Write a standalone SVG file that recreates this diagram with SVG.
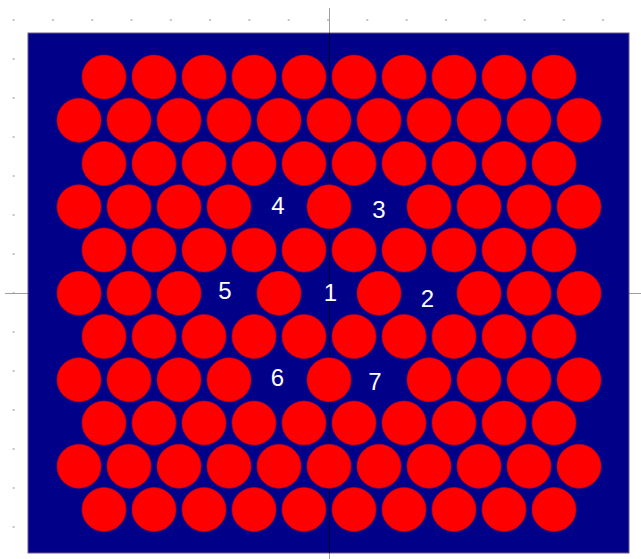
<svg xmlns="http://www.w3.org/2000/svg" xmlns:xlink="http://www.w3.org/1999/xlink" width="641" height="559" viewBox="0 0 641 559">
<style>
.c{fill:#ff0000;stroke:#d00010;stroke-width:0.6}
.lbl{font-family:"Liberation Sans",Arial,sans-serif;font-size:24px;fill:#ffffff;text-anchor:middle}
.grid{stroke:#a0a0a0;stroke-width:1;fill:none}
</style>
<defs>
<pattern id="dots" patternUnits="userSpaceOnUse" x="12.6" y="19" width="39.3" height="39">
<rect x="0" y="0" width="2" height="2" fill="#c4c4c4"/>
</pattern>
<circle id="p" r="22" class="c"/>
</defs>
<rect width="641" height="559" fill="#ffffff"/>
<rect width="641" height="559" fill="url(#dots)"/>
<line class="grid" x1="329.5" y1="8" x2="329.5" y2="559"/>
<line class="grid" x1="5" y1="293.5" x2="641" y2="293.5"/>
<rect x="28" y="33" width="601" height="520" fill="#000088" stroke="#6a5a8a" stroke-width="1"/>
<line x1="329.5" y1="33" x2="329.5" y2="553" stroke="#000030" stroke-width="1"/>
<g id="lattice">
<!-- row 0 y=77 -->
<g id="row0">
<use xlink:href="#p" x="104" y="77"/><use xlink:href="#p" x="154" y="77"/><use xlink:href="#p" x="204" y="77"/><use xlink:href="#p" x="254" y="77"/><use xlink:href="#p" x="304" y="77"/><use xlink:href="#p" x="354" y="77"/><use xlink:href="#p" x="404" y="77"/><use xlink:href="#p" x="454" y="77"/><use xlink:href="#p" x="504" y="77"/><use xlink:href="#p" x="554" y="77"/>
</g>
<g id="row1">
<use xlink:href="#p" x="79" y="120.25"/><use xlink:href="#p" x="129" y="120.25"/><use xlink:href="#p" x="179" y="120.25"/><use xlink:href="#p" x="229" y="120.25"/><use xlink:href="#p" x="279" y="120.25"/><use xlink:href="#p" x="329" y="120.25"/><use xlink:href="#p" x="379" y="120.25"/><use xlink:href="#p" x="429" y="120.25"/><use xlink:href="#p" x="479" y="120.25"/><use xlink:href="#p" x="529" y="120.25"/><use xlink:href="#p" x="579" y="120.25"/>
</g>
<g id="row2">
<use xlink:href="#p" x="104" y="163.5"/><use xlink:href="#p" x="154" y="163.5"/><use xlink:href="#p" x="204" y="163.5"/><use xlink:href="#p" x="254" y="163.5"/><use xlink:href="#p" x="304" y="163.5"/><use xlink:href="#p" x="354" y="163.5"/><use xlink:href="#p" x="404" y="163.5"/><use xlink:href="#p" x="454" y="163.5"/><use xlink:href="#p" x="504" y="163.5"/><use xlink:href="#p" x="554" y="163.5"/>
</g>
<g id="row3">
<use xlink:href="#p" x="79" y="206.75"/><use xlink:href="#p" x="129" y="206.75"/><use xlink:href="#p" x="179" y="206.75"/><use xlink:href="#p" x="229" y="206.75"/><use xlink:href="#p" x="329" y="206.75"/><use xlink:href="#p" x="429" y="206.75"/><use xlink:href="#p" x="479" y="206.75"/><use xlink:href="#p" x="529" y="206.75"/><use xlink:href="#p" x="579" y="206.75"/>
</g>
<g id="row4">
<use xlink:href="#p" x="104" y="250"/><use xlink:href="#p" x="154" y="250"/><use xlink:href="#p" x="204" y="250"/><use xlink:href="#p" x="254" y="250"/><use xlink:href="#p" x="304" y="250"/><use xlink:href="#p" x="354" y="250"/><use xlink:href="#p" x="404" y="250"/><use xlink:href="#p" x="454" y="250"/><use xlink:href="#p" x="504" y="250"/><use xlink:href="#p" x="554" y="250"/>
</g>
<g id="row5">
<use xlink:href="#p" x="79" y="293.25"/><use xlink:href="#p" x="129" y="293.25"/><use xlink:href="#p" x="179" y="293.25"/><use xlink:href="#p" x="279" y="293.25"/><use xlink:href="#p" x="379" y="293.25"/><use xlink:href="#p" x="479" y="293.25"/><use xlink:href="#p" x="529" y="293.25"/><use xlink:href="#p" x="579" y="293.25"/>
</g>
<g id="row6">
<use xlink:href="#p" x="104" y="336.5"/><use xlink:href="#p" x="154" y="336.5"/><use xlink:href="#p" x="204" y="336.5"/><use xlink:href="#p" x="254" y="336.5"/><use xlink:href="#p" x="304" y="336.5"/><use xlink:href="#p" x="354" y="336.5"/><use xlink:href="#p" x="404" y="336.5"/><use xlink:href="#p" x="454" y="336.5"/><use xlink:href="#p" x="504" y="336.5"/><use xlink:href="#p" x="554" y="336.5"/>
</g>
<g id="row7">
<use xlink:href="#p" x="79" y="379.75"/><use xlink:href="#p" x="129" y="379.75"/><use xlink:href="#p" x="179" y="379.75"/><use xlink:href="#p" x="229" y="379.75"/><use xlink:href="#p" x="329" y="379.75"/><use xlink:href="#p" x="429" y="379.75"/><use xlink:href="#p" x="479" y="379.75"/><use xlink:href="#p" x="529" y="379.75"/><use xlink:href="#p" x="579" y="379.75"/>
</g>
<g id="row8">
<use xlink:href="#p" x="104" y="423"/><use xlink:href="#p" x="154" y="423"/><use xlink:href="#p" x="204" y="423"/><use xlink:href="#p" x="254" y="423"/><use xlink:href="#p" x="304" y="423"/><use xlink:href="#p" x="354" y="423"/><use xlink:href="#p" x="404" y="423"/><use xlink:href="#p" x="454" y="423"/><use xlink:href="#p" x="504" y="423"/><use xlink:href="#p" x="554" y="423"/>
</g>
<g id="row9">
<use xlink:href="#p" x="79" y="466.25"/><use xlink:href="#p" x="129" y="466.25"/><use xlink:href="#p" x="179" y="466.25"/><use xlink:href="#p" x="229" y="466.25"/><use xlink:href="#p" x="279" y="466.25"/><use xlink:href="#p" x="329" y="466.25"/><use xlink:href="#p" x="379" y="466.25"/><use xlink:href="#p" x="429" y="466.25"/><use xlink:href="#p" x="479" y="466.25"/><use xlink:href="#p" x="529" y="466.25"/><use xlink:href="#p" x="579" y="466.25"/>
</g>
<g id="row10">
<use xlink:href="#p" x="104" y="509.5"/><use xlink:href="#p" x="154" y="509.5"/><use xlink:href="#p" x="204" y="509.5"/><use xlink:href="#p" x="254" y="509.5"/><use xlink:href="#p" x="304" y="509.5"/><use xlink:href="#p" x="354" y="509.5"/><use xlink:href="#p" x="404" y="509.5"/><use xlink:href="#p" x="454" y="509.5"/><use xlink:href="#p" x="504" y="509.5"/><use xlink:href="#p" x="554" y="509.5"/>
</g>
</g>
<g id="labels">
<text class="lbl" x="278" y="214">4</text>
<text class="lbl" x="379" y="218">3</text>
<text class="lbl" x="225" y="299">5</text>
<text class="lbl" x="330.5" y="301">1</text>
<text class="lbl" x="427.5" y="307">2</text>
<text class="lbl" x="277.5" y="386">6</text>
<text class="lbl" x="375" y="390">7</text>
</g>
</svg>
